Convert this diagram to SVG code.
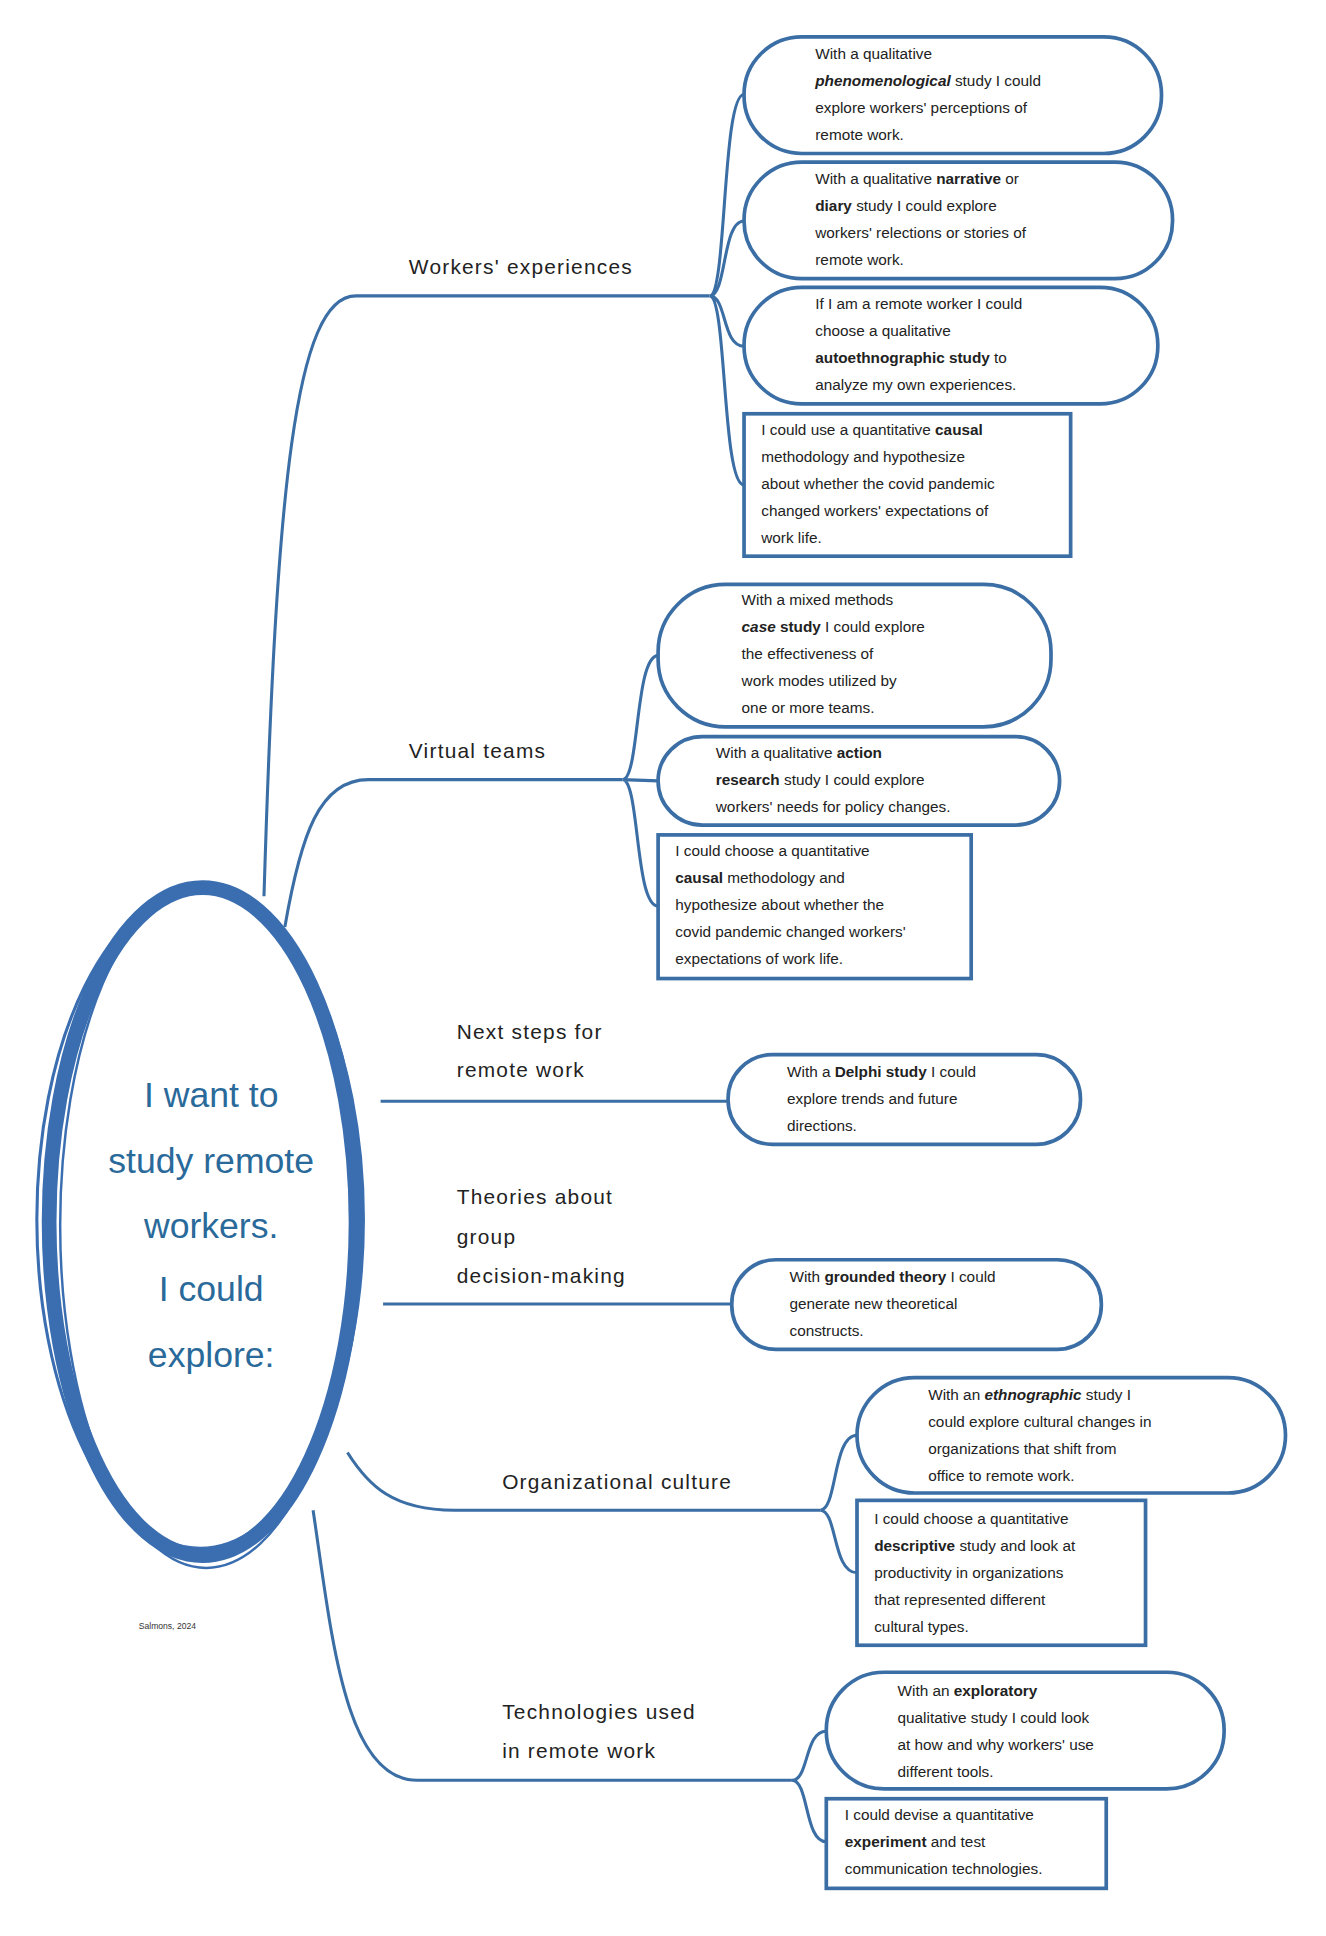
<svg xmlns="http://www.w3.org/2000/svg" width="1326" height="1936" viewBox="0 0 1326 1936">
<style>
.c{fill:none;stroke:#3a6ea5;stroke-width:2.5}
.n{fill:#fff;stroke:#3a6ea5;stroke-width:3}
.t{font-family:"Liberation Sans",Arial,sans-serif;font-size:12.5px;fill:#222}
.l{font-family:"Liberation Sans",Arial,sans-serif;font-size:17px;fill:#222;letter-spacing:1px}
.m{font-family:"Liberation Sans",Arial,sans-serif;font-size:29px;fill:#2a6a9a;text-anchor:middle}
.b{font-weight:bold}
.i{font-style:italic;font-weight:bold}
</style>
<rect width="1326" height="1936" fill="#fff"/>
<g transform="scale(1.2278)">
<g id="connectors">
<path class="c" d="M215 730 C225 400 240 241 290 241 L578 241"/>
<path class="c" d="M578 241 C592 241 588 77 606 77 M578 241 C592 241 588 180 606 180 M578 241 C592 241 588 282 606 282 M578 241 C592 241 588 395 606 395"/>
<path class="c" d="M232 755 C245 680 260 635 300 635 L507 635"/>
<path class="c" d="M507 635 C521 635 517 534 536 534 M507 635 L536 636 M507 635 C521 635 517 738 536 738"/>
<path class="c" d="M310 897 L593 897"/>
<path class="c" d="M312 1062 L596 1062"/>
<path class="c" d="M283 1183 C300 1210 320 1230 370 1230 L668 1230"/>
<path class="c" d="M668 1230 C682 1230 678 1169 698 1169 M668 1230 C682 1230 678 1281 698 1281"/>
<path class="c" d="M255 1230 C270 1330 280 1450 340 1450 L645 1450"/>
<path class="c" d="M645 1450 C659 1450 655 1410 673 1410 M645 1450 C659 1450 655 1500 673 1500"/>
</g>
<g id="center">
<ellipse cx="165" cy="995" rx="125" ry="272" fill="#fff" stroke="#3a6eb0" stroke-width="12"/>
<ellipse cx="163" cy="993" rx="133" ry="268" fill="none" stroke="#3a6eb0" stroke-width="2.5"/>
<ellipse cx="168" cy="998" rx="119" ry="279" fill="none" stroke="#3a6eb0" stroke-width="2"/>
<text class="m" x="172" y="902">I want to</text>
<text class="m" x="172" y="955">study remote</text>
<text class="m" x="172" y="1008">workers.</text>
<text class="m" x="172" y="1060">I could</text>
<text class="m" x="172" y="1113">explore:</text>
</g>
<g id="b1">
<text class="l" x="333" y="223">Workers' experiences</text>
<rect class="n" x="606" y="30" width="340" height="95" rx="47"/>
<text class="t" x="664" y="48">With a qualitative</text>
<text class="t" x="664" y="70"><tspan class="i">phenomenological</tspan> study I could</text>
<text class="t" x="664" y="92">explore workers' perceptions of</text>
<text class="t" x="664" y="114">remote work.</text>
<rect class="n" x="606" y="132" width="349" height="95" rx="47"/>
<text class="t" x="664" y="150">With a qualitative <tspan class="b">narrative</tspan> or</text>
<text class="t" x="664" y="172"><tspan class="b">diary</tspan> study I could explore</text>
<text class="t" x="664" y="194">workers' relections or stories of</text>
<text class="t" x="664" y="216">remote work.</text>
<rect class="n" x="606" y="234" width="337" height="95" rx="47"/>
<text class="t" x="664" y="252">If I am a remote worker I could</text>
<text class="t" x="664" y="274">choose a qualitative</text>
<text class="t" x="664" y="296"><tspan class="b">autoethnographic study</tspan> to</text>
<text class="t" x="664" y="318">analyze my own experiences.</text>
<rect class="n" x="606" y="337" width="266" height="116"/>
<text class="t" x="620" y="354">I could use a quantitative <tspan class="b">causal</tspan></text>
<text class="t" x="620" y="376">methodology and hypothesize</text>
<text class="t" x="620" y="398">about whether the covid pandemic</text>
<text class="t" x="620" y="420">changed workers' expectations of</text>
<text class="t" x="620" y="442">work life.</text>
</g>
<g id="b2">
<text class="l" x="333" y="617">Virtual teams</text>
<rect class="n" x="536" y="476" width="320" height="116" rx="55"/>
<text class="t" x="604" y="493">With a mixed methods</text>
<text class="t" x="604" y="515"><tspan class="i">case</tspan><tspan class="b"> study</tspan> I could explore</text>
<text class="t" x="604" y="537">the effectiveness of</text>
<text class="t" x="604" y="559">work modes utilized by</text>
<text class="t" x="604" y="581">one or more teams.</text>
<rect class="n" x="536" y="600" width="327" height="72" rx="36"/>
<text class="t" x="583" y="617">With a qualitative <tspan class="b">action</tspan></text>
<text class="t" x="583" y="639"><tspan class="b">research</tspan> study I could explore</text>
<text class="t" x="583" y="661">workers' needs for policy changes.</text>
<rect class="n" x="536" y="680" width="255" height="117"/>
<text class="t" x="550" y="697">I could choose a quantitative</text>
<text class="t" x="550" y="719"><tspan class="b">causal</tspan> methodology and</text>
<text class="t" x="550" y="741">hypothesize about whether the</text>
<text class="t" x="550" y="763">covid pandemic changed workers'</text>
<text class="t" x="550" y="785">expectations of work life.</text>
</g>
<g id="b3">
<text class="l" x="372" y="846">Next steps for</text>
<text class="l" x="372" y="877">remote work</text>
<rect class="n" x="593" y="859" width="287" height="73" rx="36"/>
<text class="t" x="641" y="877">With a <tspan class="b">Delphi study</tspan> I could</text>
<text class="t" x="641" y="899">explore trends and future</text>
<text class="t" x="641" y="921">directions.</text>
</g>
<g id="b4">
<text class="l" x="372" y="981">Theories about</text>
<text class="l" x="372" y="1013">group</text>
<text class="l" x="372" y="1045">decision-making</text>
<rect class="n" x="596" y="1026" width="301" height="73" rx="36"/>
<text class="t" x="643" y="1044">With <tspan class="b">grounded theory</tspan> I could</text>
<text class="t" x="643" y="1066">generate new theoretical</text>
<text class="t" x="643" y="1088">constructs.</text>
</g>
<g id="b5">
<text class="l" x="409" y="1213">Organizational culture</text>
<rect class="n" x="698" y="1122" width="349" height="94" rx="47"/>
<text class="t" x="756" y="1140">With an <tspan class="i">ethnographic</tspan> study I</text>
<text class="t" x="756" y="1162">could explore  cultural changes in</text>
<text class="t" x="756" y="1184">organizations that shift from</text>
<text class="t" x="756" y="1206">office to remote work.</text>
<rect class="n" x="698" y="1222" width="235" height="118"/>
<text class="t" x="712" y="1241">I could choose a quantitative</text>
<text class="t" x="712" y="1263"><tspan class="b">descriptive</tspan> study and look at</text>
<text class="t" x="712" y="1285">productivity in organizations</text>
<text class="t" x="712" y="1307">that represented different</text>
<text class="t" x="712" y="1329">cultural types.</text>
</g>
<g id="b6">
<text class="l" x="409" y="1400">Technologies used</text>
<text class="l" x="409" y="1432">in remote work</text>
<rect class="n" x="673" y="1362" width="324" height="95" rx="47"/>
<text class="t" x="731" y="1381">With an <tspan class="b">exploratory</tspan></text>
<text class="t" x="731" y="1403">qualitative study I could look</text>
<text class="t" x="731" y="1425">at how and why workers' use</text>
<text class="t" x="731" y="1447">different tools.</text>
<rect class="n" x="673" y="1465" width="228" height="73"/>
<text class="t" x="688" y="1482">I could devise a quantitative</text>
<text class="t" x="688" y="1504"><tspan class="b">experiment</tspan> and test</text>
<text class="t" x="688" y="1526">communication technologies.</text>
</g>
<text x="113" y="1327" font-family="Liberation Sans,sans-serif" font-size="7" fill="#333">Salmons, 2024</text>
</g>
</svg>
